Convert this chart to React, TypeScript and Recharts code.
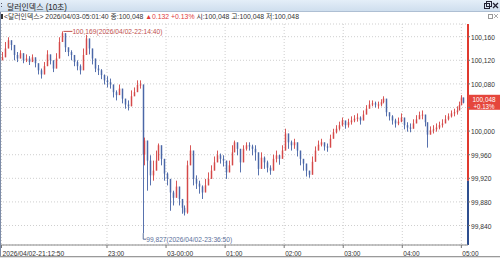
import React from 'react';
import { ComposedChart, Bar, XAxis, YAxis, CartesianGrid, ReferenceLine, ReferenceDot } from 'recharts';

// time: minutes since 2026/04/02 21:00 (10-second candles, sampled)
const times = [
  13.3, 16.4, 19.4, 22.5, 25.5, 28.6, 31.6, 34.7, 37.7, 40.8, 43.8, 46.9, 49.9, 53.0, 56.0, 59.1, 62.1, 65.2, 68.2, 71.2,
  74.7, 77.3, 80.4, 83.4, 86.5, 89.5, 92.6, 95.6, 98.7, 101.7, 104.8, 107.8, 110.9, 113.9, 117.0, 120.0, 123.1, 126.1, 129.2, 132.2,
  135.3, 138.3, 141.4, 144.4, 147.4, 150.5, 153.5, 156.8, 158.1, 160.7, 163.7, 166.7, 169.8, 172.3, 174.9, 177.9, 181.0, 184.0, 187.1, 190.1,
  193.2, 196.2, 198.7, 201.3, 204.3, 207.4, 210.4, 213.5, 216.5, 219.6, 222.6, 225.7, 228.7, 231.8, 234.8, 237.9, 240.9, 244.0, 247.0, 249.1,
  252.1, 255.1, 258.2, 261.2, 264.3, 267.3, 270.4, 273.4, 276.5, 279.5, 282.5, 285.6, 288.6, 291.7, 294.7, 297.8, 300.8, 303.9, 306.9, 310.0,
  313.0, 316.1, 319.1, 322.2, 325.2, 328.3, 331.3, 334.4, 337.4, 340.5, 343.5, 346.6, 349.6, 352.7, 355.7, 358.7, 361.8, 364.8, 367.9, 370.9,
  374.0, 377.0, 380.1, 383.1, 386.2, 389.2, 392.3, 395.3, 398.4, 400.9, 403.4, 406.5, 409.5, 412.6, 415.6, 418.7, 421.7, 424.8, 427.8, 430.9,
  433.9, 437.0, 440.0, 443.1, 445.6, 448.1, 451.2, 454.3, 457.3, 460.4, 463.4, 466.5, 469.5, 472.6, 475.6, 477.7, 480.2, 481.7,
];
const closes = [
  100.125, 100.140, 100.154, 100.146, 100.129, 100.123, 100.132, 100.120, 100.123, 100.117, 100.125, 100.115, 100.103, 100.096, 100.110, 100.130, 100.120, 100.106, 100.123, 100.151,
  100.166, 100.142, 100.134, 100.129, 100.117, 100.110, 100.103, 100.129, 100.157, 100.140, 100.123, 100.106, 100.103, 100.095, 100.086, 100.083, 100.079, 100.066, 100.061, 100.072,
  100.055, 100.045, 100.042, 100.059, 100.066, 100.078, 100.079, 99.960, 99.984, 99.950, 99.925, 99.933, 99.950, 99.976, 99.953, 99.928, 99.919, 99.896, 99.887, 99.906,
  99.885, 99.870, 99.862, 99.942, 99.967, 99.919, 99.911, 99.906, 99.896, 99.908, 99.919, 99.933, 99.947, 99.959, 99.953, 99.950, 99.930, 99.942, 99.964, 99.981,
  99.970, 99.947, 99.970, 99.976, 99.974, 99.970, 99.964, 99.936, 99.955, 99.947, 99.938, 99.933, 99.953, 99.959, 99.953, 99.967, 99.996, 99.981, 99.976, 99.981,
  99.967, 99.953, 99.945, 99.933, 99.926, 99.948, 99.967, 99.977, 99.981, 99.974, 99.972, 99.987, 99.998, 100.004, 100.010, 100.018, 100.010, 100.015, 100.018, 100.021,
  100.023, 100.018, 100.028, 100.038, 100.045, 100.047, 100.045, 100.045, 100.049, 100.055, 100.032, 100.025, 100.018, 100.013, 100.016, 100.023, 100.010, 100.006, 100.004, 100.013,
  100.020, 100.027, 100.028, 100.015, 99.994, 100.001, 100.003, 100.006, 100.010, 100.013, 100.020, 100.025, 100.030, 100.032, 100.035, 100.044, 100.057, 100.048,
];
const highs = [
  100.134, 100.151, 100.159, 100.154, 100.140, 100.134, 100.137, 100.129, 100.130, 100.127, 100.130, 100.123, 100.113, 100.106, 100.117, 100.137, 100.129, 100.120, 100.132, 100.159,
  100.169, 100.154, 100.142, 100.137, 100.127, 100.120, 100.113, 100.140, 100.163, 100.151, 100.134, 100.117, 100.112, 100.105, 100.096, 100.093, 100.089, 100.076, 100.069, 100.079,
  100.066, 100.054, 100.052, 100.069, 100.074, 100.086, 100.086, 100.076, 99.989, 99.984, 99.959, 99.950, 99.967, 99.979, 99.967, 99.942, 99.930, 99.911, 99.899, 99.916,
  99.899, 99.885, 99.874, 99.950, 99.976, 99.942, 99.925, 99.916, 99.908, 99.919, 99.930, 99.942, 99.957, 99.967, 99.962, 99.959, 99.942, 99.950, 99.976, 99.984,
  99.977, 99.967, 99.976, 99.981, 99.981, 99.977, 99.976, 99.959, 99.964, 99.957, 99.950, 99.942, 99.960, 99.967, 99.960, 99.976, 100.004, 99.991, 99.984, 99.987,
  99.977, 99.964, 99.953, 99.942, 99.933, 99.957, 99.974, 99.984, 99.987, 99.981, 99.979, 99.994, 100.004, 100.010, 100.016, 100.023, 100.018, 100.021, 100.025, 100.027,
  100.030, 100.025, 100.035, 100.044, 100.052, 100.052, 100.050, 100.050, 100.054, 100.059, 100.052, 100.032, 100.027, 100.021, 100.023, 100.030, 100.018, 100.015, 100.013, 100.020,
  100.027, 100.033, 100.035, 100.025, 100.011, 100.008, 100.010, 100.013, 100.016, 100.020, 100.027, 100.030, 100.035, 100.038, 100.042, 100.050, 100.061, 100.057,
];
const lows = [
  100.120, 100.129, 100.144, 100.137, 100.120, 100.117, 100.123, 100.115, 100.117, 100.112, 100.117, 100.108, 100.096, 100.089, 100.101, 100.120, 100.113, 100.100, 100.117, 100.137,
  100.154, 100.134, 100.127, 100.120, 100.110, 100.103, 100.096, 100.117, 100.144, 100.130, 100.113, 100.100, 100.095, 100.088, 100.079, 100.074, 100.072, 100.057, 100.052, 100.062,
  100.047, 100.038, 100.035, 100.052, 100.059, 100.069, 100.072, 99.827, 99.942, 99.899, 99.908, 99.916, 99.936, 99.959, 99.942, 99.916, 99.908, 99.865, 99.874, 99.891,
  99.874, 99.860, 99.857, 99.860, 99.953, 99.908, 99.902, 99.894, 99.885, 99.896, 99.908, 99.919, 99.936, 99.947, 99.945, 99.940, 99.919, 99.930, 99.953, 99.967,
  99.959, 99.930, 99.959, 99.967, 99.967, 99.959, 99.950, 99.925, 99.942, 99.936, 99.930, 99.926, 99.942, 99.947, 99.943, 99.957, 99.984, 99.970, 99.967, 99.970,
  99.957, 99.942, 99.933, 99.923, 99.921, 99.936, 99.957, 99.967, 99.974, 99.967, 99.965, 99.977, 99.991, 99.996, 100.001, 100.008, 100.004, 100.006, 100.011, 100.015,
  100.016, 100.011, 100.021, 100.030, 100.038, 100.042, 100.040, 100.038, 100.042, 100.047, 100.025, 100.018, 100.011, 100.006, 100.010, 100.015, 100.003, 99.999, 99.998, 100.004,
  100.013, 100.021, 100.020, 100.008, 99.972, 99.994, 99.996, 99.999, 100.003, 100.006, 100.013, 100.018, 100.023, 100.025, 100.028, 100.038, 100.049, 100.047,
];
const firstOpen = 100.120;

const xTickTimes = [12.833, 120, 180, 240, 300, 360, 420, 480];
const xTickLabels = ['2026/04/02-21:12:50', '23:00', '03-00:00', '01:00', '02:00', '03:00', '04:00', '05:00'];
const yTicks = [99.84, 99.88, 99.92, 99.96, 100.0, 100.04, 100.08, 100.12, 100.16];
const xDomain = [11.3, 486.75];
const yDomain = [99.807, 100.1815];
const basePrice = 99.916;
const lastPrice = 100.048;
const lastChange = '+0.13%';
const maxPoint = { t: 74.7, price: 100.169, label: '100,169(2026/04/02-22:14:40)' };
const minPoint = { t: 156.8, price: 99.827, label: '99,827(2026/04/02-23:36:50)' };

const RED = '#d23a3a';
const BLUE = '#3c5aa0';
const FONT = "'Liberation Sans', 'Noto Sans CJK KR', sans-serif";

const data = times.map((t, i) => {
  const open = i === 0 ? firstOpen : closes[i - 1];
  const close = closes[i];
  const high = Math.max(highs[i], open, close);
  const low = Math.min(lows[i], open, close);
  return { t, open, close, high, low, range: [low, high] };
});

const fmt = (v: number) => v.toFixed(3).replace('.', ',');

const Candle = (props: any) => {
  const { x, y, width, height, payload } = props;
  if (x == null || y == null || !payload) return null;
  const cx = Math.round(x + width / 2) + 0.5;
  const top = Math.min(y, y + height);
  const bot = Math.max(y, y + height);
  const { open, close, high, low } = payload;
  const span = high - low || 1e-9;
  const pY = (v: number) => top + ((high - v) / span) * (bot - top);
  const up = close >= open;
  const color = up ? RED : BLUE;
  const yo = pY(open);
  const yc = pY(close);
  return (
    <g>
      <line x1={cx} x2={cx} y1={top} y2={Math.max(bot, top + 1)} stroke={color} strokeWidth={1} opacity={0.85} />
      <rect x={cx - 1} y={Math.min(yo, yc)} width={2} height={Math.max(Math.abs(yc - yo), 1)} fill={color} opacity={0.45} />
    </g>
  );
};

const XTick = (props: any) => {
  const { x, y, payload } = props;
  const i = xTickTimes.indexOf(payload.value);
  const label = xTickLabels[i] ?? '';
  return (
    <text x={x + 1} y={y + 5.5} fontSize={8} fill="#333" textAnchor="start" textLength={label.length * 3.25} lengthAdjust="spacingAndGlyphs" fontFamily={FONT}>
      {label}
    </text>
  );
};

const YTick = (props: any) => {
  const { x, y, payload } = props;
  if (Math.abs(payload.value - lastPrice) < 0.01) return null;
  const label = fmt(payload.value);
  return (
    <text x={x} y={y + 3} fontSize={7.3} fill="#333" textAnchor="start" textLength={label.length * 3.4} lengthAdjust="spacingAndGlyphs" fontFamily={FONT}>
      {label}
    </text>
  );
};

const MaxMark = (props: any) => {
  const { cx, cy } = props;
  if (cx == null) return null;
  return (
    <g>
      <line x1={cx + 1} x2={cx + 10} y1={cy} y2={cy} stroke="#c0504d" strokeWidth={1} />
      <text x={cx + 10} y={cy + 3} fontSize={7.5} fill="#c0504d" textLength={90} lengthAdjust="spacingAndGlyphs" fontFamily={FONT}>
        {maxPoint.label}
      </text>
    </g>
  );
};

const MinMark = (props: any) => {
  const { cx, cy } = props;
  if (cx == null) return null;
  return (
    <g>
      <polyline points={`${cx},${cy} ${cx},${cy + 6} ${cx + 3},${cy + 6}`} fill="none" stroke="#5a6f9a" strokeWidth={1} />
      <text x={cx + 3} y={cy + 9} fontSize={7.5} fill="#5a6f9a" textLength={86} lengthAdjust="spacingAndGlyphs" fontFamily={FONT}>
        {minPoint.label}
      </text>
    </g>
  );
};

const PriceTag = (props: any) => {
  const vb = props.viewBox || {};
  const left = vb.x + vb.width;
  const cy = vb.y;
  return (
    <g>
      <rect x={left} y={cy - 8} width={32} height={15} fill="#e5463c" />
      <text x={left + 16} y={cy - 1} fontSize={7} fill="#fff" textAnchor="middle" textLength={23} lengthAdjust="spacingAndGlyphs" fontFamily={FONT}>
        {fmt(lastPrice)}
      </text>
      <text x={left + 16} y={cy + 6} fontSize={7} fill="#fff" textAnchor="middle" textLength={21} lengthAdjust="spacingAndGlyphs" fontFamily={FONT}>
        {lastChange}
      </text>
    </g>
  );
};

const infoSegments = [
  { text: '<달러인덱스> 2026/04/03-05:01:40 종:100,048 ', color: '#333' },
  { text: '▲0.132 +0.13% ', color: '#e03a3a' },
  { text: '시:100,048 고:100,048 저:100,048', color: '#333' },
];

export default function App() {
  return (
    <div style={{ position: 'absolute', left: 0, top: 0, width: 500, height: 258, background: '#fff', overflow: 'hidden', fontFamily: FONT }}>
      <div style={{ position: 'absolute', left: 0, top: 0 }}>
        <ComposedChart width={500} height={258} data={data} margin={{ top: 24, right: 0, bottom: 0, left: 0 }}>
          <CartesianGrid stroke="#cfcfcf" strokeDasharray="1 2" />
          <XAxis
            type="number"
            dataKey="t"
            domain={xDomain}
            ticks={xTickTimes}
            interval={0}
            allowDataOverflow
            height={13}
            tick={<XTick />}
            tickSize={3}
            tickLine={{ stroke: '#777' }}
            axisLine={{ stroke: '#8a8a8a' }}
          />
          <YAxis
            orientation="right"
            domain={yDomain}
            ticks={yTicks}
            interval={0}
            allowDataOverflow
            width={32}
            tick={<YTick />}
            tickSize={2}
            tickMargin={1}
            tickLine={{ stroke: '#777' }}
            axisLine={false}
          />
          <Bar dataKey="range" shape={<Candle />} isAnimationActive={false} barSize={2} />
          <ReferenceLine
            segment={[{ x: xDomain[1], y: basePrice }, { x: xDomain[1], y: yDomain[1] }]}
            stroke="#e03a2f"
            strokeWidth={2}
            ifOverflow="visible"
          />
          <ReferenceLine
            segment={[{ x: xDomain[1], y: yDomain[0] }, { x: xDomain[1], y: basePrice }]}
            stroke="#2f4f90"
            strokeWidth={2}
            ifOverflow="visible"
          />
          <ReferenceLine y={lastPrice} stroke="none" label={(p: any) => <PriceTag {...p} />} ifOverflow="visible" />
          <ReferenceDot x={maxPoint.t} y={maxPoint.price} r={0} shape={(p: any) => <MaxMark {...p} />} ifOverflow="visible" />
          <ReferenceDot x={minPoint.t} y={minPoint.price} r={0} shape={(p: any) => <MinMark {...p} />} ifOverflow="visible" />
        </ComposedChart>
      </div>
      <svg width={500} height={258} style={{ position: 'absolute', left: 0, top: 0, pointerEvents: 'none' }}>
        <defs>
          <linearGradient id="tb" x1="0" y1="0" x2="0" y2="1">
            <stop offset="0" stopColor="#e4eef8" />
            <stop offset="1" stopColor="#cddded" />
          </linearGradient>
        </defs>
        <rect x={0} y={0} width={500} height={12} fill="url(#tb)" />
        <line x1={0} x2={500} y1={11.5} y2={11.5} stroke="#aebfd3" />
        <rect x={1} y={3} width={1} height={1} fill="#556" />
        <rect x={1} y={6} width={1} height={1} fill="#556" />
        <text x={7} y={9.5} fontSize={8.5} fill="#222" textLength={60} lengthAdjust="spacingAndGlyphs" fontFamily={FONT}>달러인덱스 (10초)</text>
        <rect x={484.5} y={3.5} width={5} height={5} fill="none" stroke="#223" />
        <rect x={486.5} y={1.5} width={5} height={5} fill="none" stroke="#223" />
        <line x1={493} y1={3} x2={498} y2={8} stroke="#223" strokeWidth={1.3} />
        <line x1={498} y1={3} x2={493} y2={8} stroke="#223" strokeWidth={1.3} />
        <rect x={1} y={14} width={2} height={5} fill="#333" />
        <text x={4} y={19} fontSize={7} textLength={295} lengthAdjust="spacingAndGlyphs" fontFamily={FONT} xmlSpace="preserve">
          {infoSegments.map((s, i) => (
            <tspan key={i} fill={s.color}>{s.text}</tspan>
          ))}
        </text>
        <rect x={488.5} y={14.5} width={4} height={4} fill="none" stroke="#999" />
        <line x1={494} y1={14} x2={498} y2={18} stroke="#aaa" />
        <line x1={498} y1={14} x2={494} y2={18} stroke="#aaa" />
        <line x1={0.5} x2={0.5} y1={12} y2={258} stroke="#7d8ca8" />
        <line x1={0} x2={500} y1={256.5} y2={256.5} stroke="#9a9a9a" />
        <rect x={0} y={257} width={500} height={1} fill="#e2e2e2" />
      </svg>
    </div>
  );
}
